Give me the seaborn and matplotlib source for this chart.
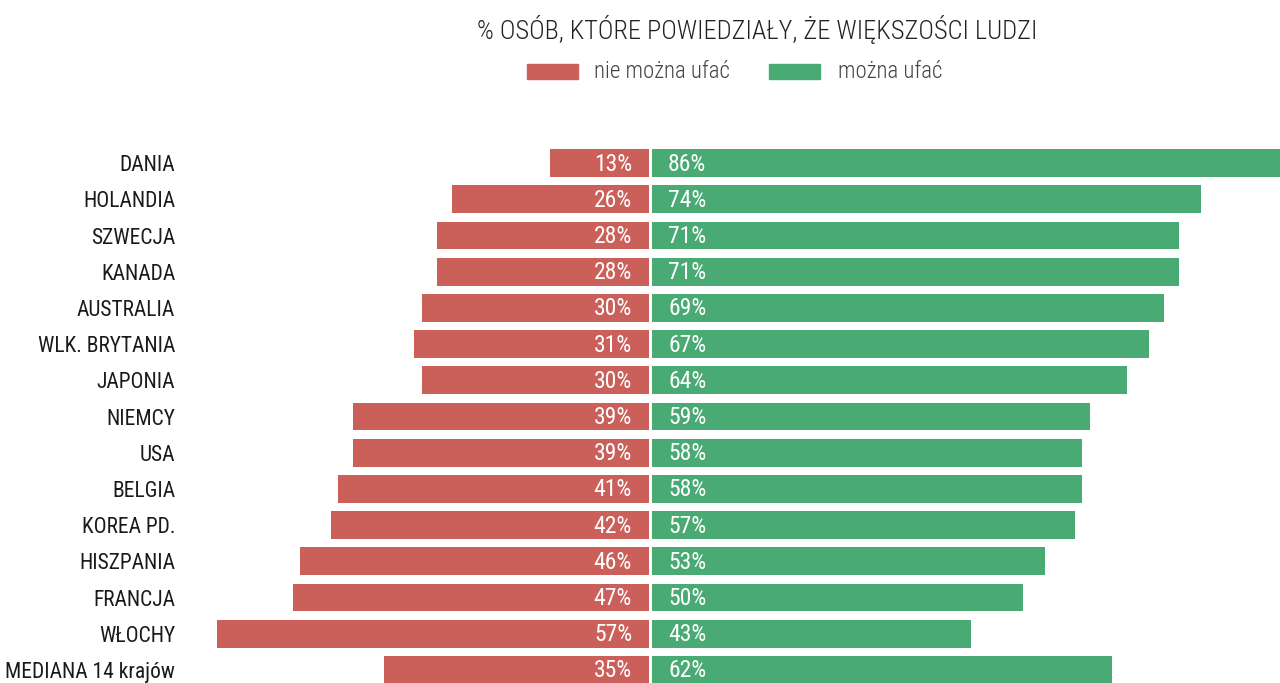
import matplotlib
matplotlib.use("Agg")
import matplotlib.pyplot as plt
from matplotlib.patches import Rectangle
import seaborn as sns
import pandas as pd

countries = ["DANIA", "HOLANDIA", "SZWECJA", "KANADA", "AUSTRALIA", "WLK. BRYTANIA",
             "JAPONIA", "NIEMCY", "USA", "BELGIA", "KOREA PD.", "HISZPANIA",
             "FRANCJA", "WŁOCHY", "MEDIANA 14 krajów"]
cannot_trust = [13, 26, 28, 28, 30, 31, 30, 39, 39, 41, 42, 46, 47, 57, 35]
can_trust = [86, 74, 71, 71, 69, 67, 64, 59, 58, 58, 57, 53, 50, 43, 62]

RED = "#CB5F5A"
GREEN = "#4AAA74"

sns.set_style("white")
plt.rcParams["font.family"] = ["Roboto Condensed", "DejaVu Sans"]

df = pd.DataFrame({"country": countries, "nie": cannot_trust, "tak": can_trust})
df["nie_neg"] = -df["nie"]

fig = plt.figure(figsize=(12.8, 6.83), dpi=100)
bottom, height = -5 / 683, 543 / 683
ax_l = fig.add_axes([185 / 1280, bottom, 464 / 1280, height])
ax_r = fig.add_axes([652 / 1280, bottom, 628 / 1280, height], sharey=ax_l)

# left and right halves get their own scale, as in the original
sns.barplot(data=df, x="nie_neg", y="country", order=countries, orient="h",
            color=RED, width=0.77, linewidth=0, ax=ax_l, saturation=1)
sns.barplot(data=df, x="tak", y="country", order=countries, orient="h",
            color=GREEN, width=0.77, linewidth=0, ax=ax_r, saturation=1)

ax_l.set_xlim(-464 / 7.58, 0)
ax_r.set_xlim(0, 628 / 7.42)
ax_l.set_ylim(len(countries) - 0.5, -0.5)

for i, (r, g) in enumerate(zip(cannot_trust, can_trust)):
    ax_l.text(-17 / 7.58, i + 0.03, f"{r}%", ha="right", va="center", color="white",
              fontsize=17)
    ax_r.text(16 / 7.42, i + 0.03, f"{g}%", ha="left", va="center", color="white",
              fontsize=17)

for ax in (ax_l, ax_r):
    ax.set_xlabel("")
    ax.set_ylabel("")
    ax.set_xticks([])
    sns.despine(ax=ax, left=True, bottom=True)
ax_l.tick_params(axis="y", length=0, pad=7, labelsize=15.5, colors="#1a1a1a")
ax_r.tick_params(axis="y", length=0, labelleft=False)

fig.text(757 / 1280, 1 - 30 / 683, "% OSÓB, KTÓRE POWIEDZIAŁY, ŻE WIĘKSZOŚCI LUDZI",
         ha="center", va="center", fontsize=19, fontweight="light", color="#222222")

# legend
fig.patches.append(Rectangle((527 / 1280, 1 - 79 / 683), 51 / 1280, 15 / 683,
                             transform=fig.transFigure, color=RED, figure=fig))
fig.text(594 / 1280, 1 - 71 / 683, "nie można ufać", ha="left", va="center",
         fontsize=16.5, fontweight="light", color="#444444")
fig.patches.append(Rectangle((769 / 1280, 1 - 79 / 683), 51 / 1280, 15 / 683,
                             transform=fig.transFigure, color=GREEN, figure=fig))
fig.text(838 / 1280, 1 - 71 / 683, "można ufać", ha="left", va="center",
         fontsize=16.5, fontweight="light", color="#444444")

fig.savefig("out.png", dpi=100)
